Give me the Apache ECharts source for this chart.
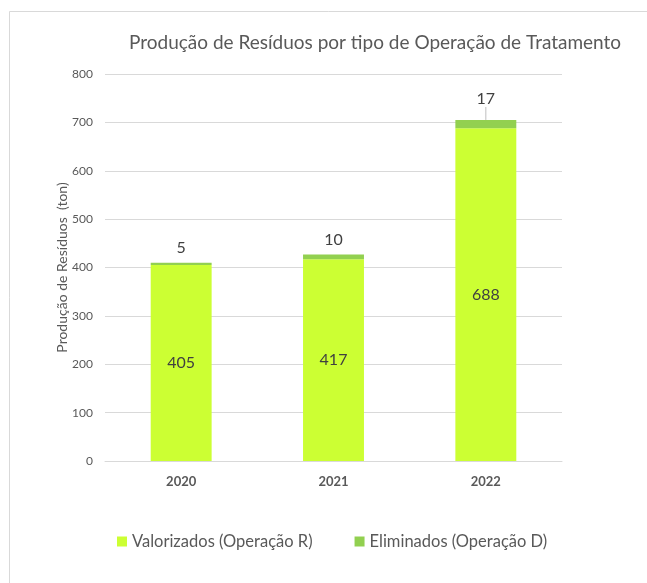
<!DOCTYPE html>
<html>
<head>
<meta charset="utf-8">
<script src="https://cdn.jsdelivr.net/npm/echarts@6/dist/echarts.min.js"></script>
<style>
html,body{margin:0;padding:0;background:#fff;}
#main{width:647px;height:583px;}
</style>
</head>
<body>
<div id="main"></div>
<script>
var anos = ['2020', '2021', '2022'];
var valorizados = [405, 417, 688];
var eliminados = [5, 10, 17];
var yTicks = [0, 100, 200, 300, 400, 500, 600, 700, 800];

var fonte = 'Lato, "Noto Sans", sans-serif';
var cinza = '#595959';

var chart = echarts.init(document.getElementById('main'));

// rótulos do topo: só o de 2022 leva a linha de chamada
var dadosElim = eliminados.map(function(v, i){
    var item = {value: v};
    if (i == 2) {
        item.labelLine = {show: true, length2: 0, lineStyle: {color: '#bfbfbf', width: 1}};
    }
    return item;
});

var option = {
    backgroundColor: '#fff',
    animation: false,
    title: {
        text: 'Produção de Resíduos por tipo de Operação de Tratamento',
        left: 124,
        top: 28,
        textStyle: {fontFamily: fonte, fontSize: 19, fontWeight: 'normal', color: cinza}
    },
    graphic: [{
        type: 'polyline',
        shape: {points: [[9.5, 600], [9.5, 11.5], [660, 11.5]]},
        style: {stroke: '#d9d9d9', fill: null, lineWidth: 1}
    }],
    legend: {
        left: 112,
        top: 528,
        itemWidth: 10,
        itemHeight: 10,
        itemGap: 42,
        icon: 'rect',
        textStyle: {fontFamily: fonte, fontSize: 16.5, color: cinza},
        data: ['Valorizados (Operação R)', 'Eliminados (Operação D)']
    },
    grid: {left: 105, right: 85, top: 74, bottom: 122},
    xAxis: {
        type: 'category',
        data: anos,
        axisLine: {lineStyle: {color: '#d9d9d9'}},
        axisTick: {show: false},
        axisLabel: {fontFamily: fonte, fontSize: 13, fontWeight: 'bold', color: cinza, margin: 14}
    },
    yAxis: {
        type: 'value',
        min: yTicks[0],
        max: yTicks[yTicks.length - 1],
        interval: 100,
        name: 'Produção de Resíduos  (ton)',
        nameLocation: 'middle',
        nameGap: 36,
        nameMoveOverlap: false,
        nameTextStyle: {fontFamily: fonte, fontSize: 14, color: cinza},
        axisLine: {show: false},
        axisTick: {show: false},
        axisLabel: {fontFamily: fonte, fontSize: 12, color: cinza, margin: 12},
        splitLine: {lineStyle: {color: '#d9d9d9'}}
    },
    series: [
        {
            name: 'Valorizados (Operação R)',
            type: 'bar',
            stack: 'total',
            barWidth: '40%',
            itemStyle: {color: '#ccff33'},
            label: {show: true, position: 'inside', fontFamily: fonte, fontSize: 16, color: '#404040'},
            data: valorizados
        },
        {
            name: 'Eliminados (Operação D)',
            type: 'bar',
            stack: 'total',
            barWidth: '40%',
            itemStyle: {color: '#92d050'},
            label: {show: true, position: 'top', distance: 5, fontFamily: fonte, fontSize: 16, color: '#404040'},
            labelLayout: function(p){
                return p.dataIndex == 2 ? {dy: -8} : {dy: -2};
            },
            data: dadosElim
        }
    ]
};
chart.setOption(option);
</script>
</body>
</html>
